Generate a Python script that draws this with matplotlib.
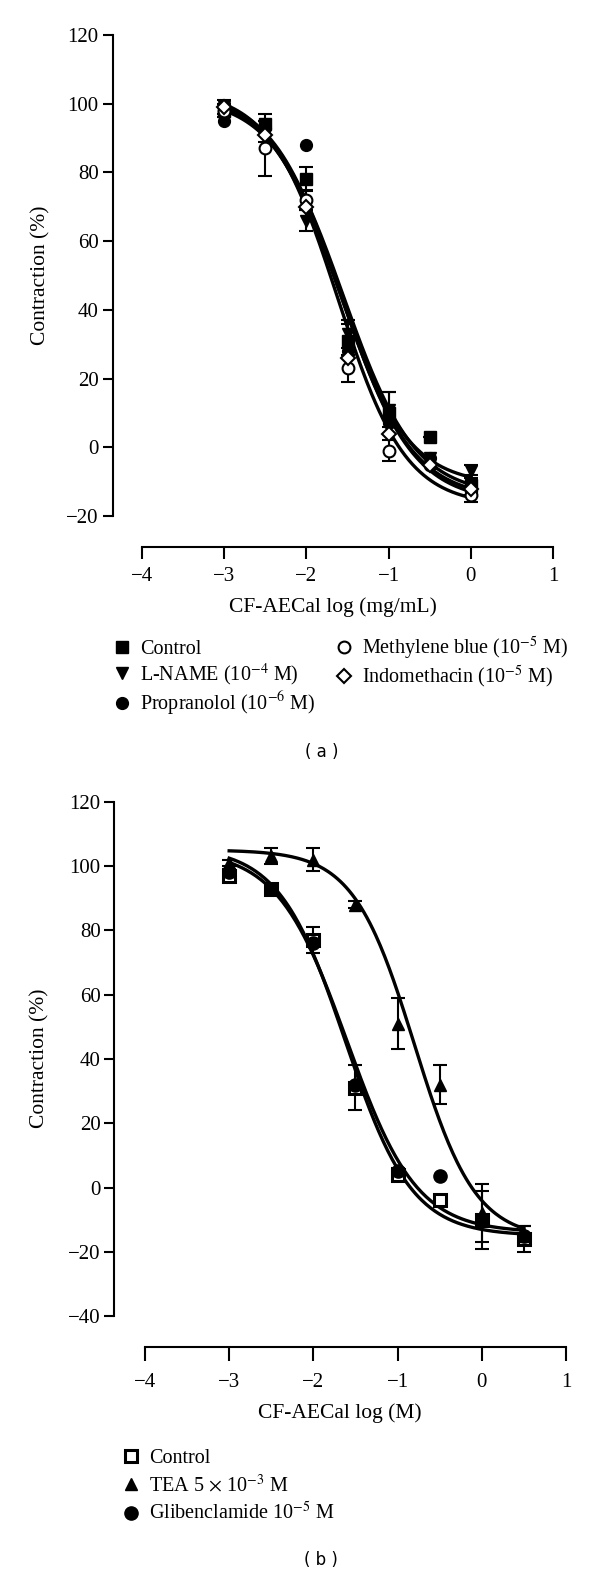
import numpy as np
import matplotlib
matplotlib.use("Agg")
import matplotlib.pyplot as plt

plt.rcParams['font.family'] = ['Liberation Serif', 'DejaVu Serif']
plt.rcParams['mathtext.fontset'] = 'stix'

# ---- panel (a): CF-AECal log (mg/mL) ----
log_a = [-3, -2.5, -2, -1.5, -1, -0.5, 0]
ctrl_a = [98, 94, 78, 31, 10, 3, -11]
ctrl_a_err = [2, 3, 3.5, 5, 6, 0, 3]
lname_a = [99, 92, 66, 33, 11, -3, -7]
lname_a_err = [2, 3, 3, 4, 5, 0, 2]
prop_a = [95, 93, 88, 28, 7, -3, -13]
mb_a = [98, 87, 72, 23, -1, -5, -14]
mb_a_err = [2, 8, 3, 4, 3, 0, 2]
indo_a = [99, 91, 70, 26, 4, -5, -12]

# fitted sigmoid parameters (top, bottom, logEC50, hill)
fit_a = {
    'ctrl': (103, -16, -1.57, 1.0),
    'lname': (103, -11, -1.60, 1.05),
    'prop': (102, -14, -1.55, 1.0),
    'mb': (104, -17, -1.62, 1.05),
    'indo': (103, -15, -1.58, 1.0),
}

# ---- panel (b): CF-AECal log (M) ----
log_b = [-3, -2.5, -2, -1.5, -1, -0.5, 0, 0.5]
ctrl_b = [97, 93, 77, 31, 4, -4, -10, -16]
ctrl_b_err = [2, 1.5, 4, 7, 2, 1, 9, 4]
tea_b = [101, 103, 102, 88, 51, 32, -8, -15]
tea_b_err = [1, 2.5, 3.5, 1, 8, 6, 9, 3]
glib_b = [98, 93, 76, 32, 5, 3.5, -10, -15]

fit_b = {
    'ctrl': (106, -15, -1.62, 1.1),
    'glib': (105, -14, -1.60, 1.05),
    'tea': (105, -16, -0.80, 1.2),
}


def sigmoid(x, p):
    top, bottom, ec, h = p
    return bottom + (top - bottom) / (1 + 10 ** ((x - ec) * h))


def style_axes(ax, xlim, ylim, xb, yb, yticks, xtick_len=8.5, xpad=6):
    ax.set_xlim(*xlim)
    ax.set_ylim(*ylim)
    for s in ['top', 'right']:
        ax.spines[s].set_visible(False)
    ax.spines['left'].set_bounds(*yb)
    ax.spines['bottom'].set_bounds(*xb)
    for s in ['left', 'bottom']:
        ax.spines[s].set_linewidth(1.5)
    ax.set_yticks(yticks)
    ax.set_xticks([-4, -3, -2, -1, 0, 1])
    ax.tick_params(axis='y', direction='out', length=7, width=1.5, labelsize=15, pad=3)
    ax.tick_params(axis='x', direction='out', length=xtick_len, width=1.5, labelsize=15, pad=xpad)


fig = plt.figure(figsize=(6, 15.76), dpi=100)

mk = dict(color='black', markersize=8.5, linestyle='none', zorder=4, clip_on=False)
eb = dict(fmt='none', ecolor='black', elinewidth=1.5, capsize=5, capthick=1.5, zorder=3)
ln = dict(color='black', linewidth=2.4, zorder=2)

# panel (a)
ax1 = fig.add_axes([0.1877, 0.6529, 0.734, 0.3249])
xs = np.linspace(-3, 0, 200)
for key in fit_a:
    ax1.plot(xs, sigmoid(xs, fit_a[key]), **ln)

ax1.errorbar(log_a, ctrl_a, yerr=ctrl_a_err, **eb)
ax1.errorbar(log_a, lname_a, yerr=lname_a_err, **eb)
ax1.errorbar(log_a, mb_a, yerr=mb_a_err, **eb)
h1, = ax1.plot(log_a, ctrl_a, marker='s', **mk)
h2, = ax1.plot(log_a, lname_a, marker='v', **mk)
h3, = ax1.plot(log_a, prop_a, marker='o', **mk)
h4, = ax1.plot(log_a, mb_a, marker='o', markerfacecolor='white', markeredgewidth=1.5, **mk)
h5, = ax1.plot(log_a, indo_a, marker='D', markersize=7, markerfacecolor='white',
               markeredgewidth=1.5, color='black', linestyle='none', zorder=4)

style_axes(ax1, (-4.358, 1.0), (-29, 120), (-4, 1), (-20, 120), range(-20, 121, 20))
ax1.set_ylabel('Contraction (%)', fontsize=15.5)
ax1.yaxis.set_label_coords(-0.142, 0.531)
ax1.set_xlabel('CF-AECal log (mg/mL)', fontsize=15.5, labelpad=8)

fig.legend([h1, h2, h3, h4, h5],
           ['Control', 'L-NAME (10$^{-4}$ M)', 'Propranolol (10$^{-6}$ M)',
            'Methylene blue (10$^{-5}$ M)', 'Indomethacin (10$^{-5}$ M)'],
           ncol=2, frameon=False, fontsize=14.5, loc='upper left',
           bbox_to_anchor=(0.17, 0.6025), handletextpad=0.3,
           columnspacing=0.8, labelspacing=0.12, handlelength=1.2,
           borderaxespad=0)

fig.text(0.537, 1 - 752 / 1576, '( a )', family='DejaVu Sans', fontsize=12,
         ha='center', va='center')

# panel (b)
ax2 = fig.add_axes([0.1908, 0.1453, 0.7525, 0.346])
xs = np.linspace(-3, 0.5, 200)
for key in fit_b:
    ax2.plot(xs, sigmoid(xs, fit_b[key]), **ln)

ax2.errorbar(log_b, ctrl_b, yerr=ctrl_b_err, **eb)
ax2.errorbar(log_b, tea_b, yerr=tea_b_err, **eb)
g1, = ax2.plot(log_b, ctrl_b, marker='s', markerfacecolor='white', markeredgewidth=2.2,
               color='black', markersize=9, linestyle='none', zorder=4)
g2, = ax2.plot(log_b, tea_b, marker='^', **mk)
g3, = ax2.plot(log_b, glib_b, marker='o', color='black', markersize=9.5,
               linestyle='none', zorder=4)

style_axes(ax2, (-4.362, 1.0), (-49.6, 120), (-4, 1), (-40, 120), range(-40, 121, 20),
           xtick_len=10, xpad=9)
ax2.set_ylabel('Contraction (%)', fontsize=15.5)
ax2.yaxis.set_label_coords(-0.143, 0.53)
ax2.set_xlabel('CF-AECal log (M)', fontsize=15.5, labelpad=8)

fig.legend([g1, g2, g3],
           ['Control', 'TEA 5 $\\times$ 10$^{-3}$ M', 'Glibenclamide 10$^{-5}$ M'],
           ncol=1, frameon=False, fontsize=14.5, loc='upper left',
           bbox_to_anchor=(0.185, 0.0855), handletextpad=0.3,
           labelspacing=0.3, handlelength=1.2, borderaxespad=0)

fig.text(0.535, 1 - 1560 / 1576, '( b )', family='DejaVu Sans', fontsize=12,
         ha='center', va='center')

fig.savefig('out.png', dpi=100)
